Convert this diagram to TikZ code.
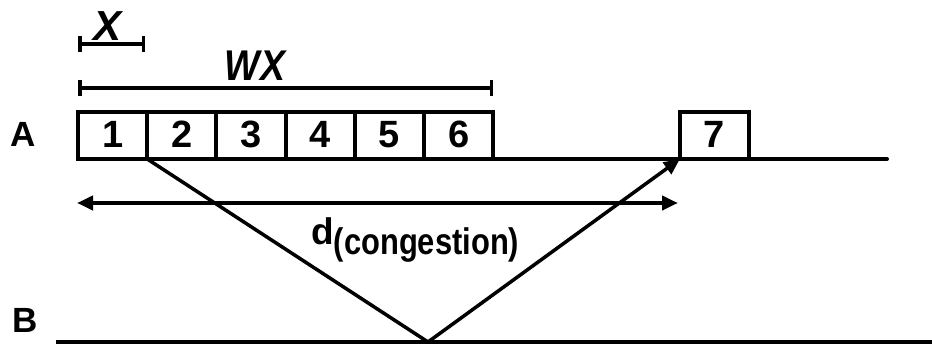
\documentclass[tikz,border=0pt]{standalone}
\usepackage{fontspec}
\setmainfont{Liberation Sans}
\usetikzlibrary{arrows.meta}
\begin{document}
\begin{tikzpicture}[x=1pt,y=-1pt,
  cell/.style={draw, line width=4pt, minimum width=69.2pt, minimum height=47pt,
    inner sep=0pt, outer sep=0pt, font=\fontsize{38}{38}\selectfont\bfseries,
    text height=27pt, text depth=2pt},
  lbl/.style={inner sep=0pt, font=\fontsize{35}{35}\selectfont\bfseries},
  dim/.style={line width=3.5pt, {Bar[width=16pt]}-{Bar[width=16pt]}},
  timeline/.style={line width=4pt, line cap=round},
  sig/.style={line width=3.5pt},
  tip/.style={-{Triangle[length=16pt,width=14pt]}},
  dtip/.style={{Triangle[length=16pt,width=14pt]}-{Triangle[length=16pt,width=14pt]}}
]
\useasboundingbox (0,0) rectangle (932,344);
% boxes
\foreach \i in {1,...,6} {
  \node[cell] (b\i) at ({78+69.2*(\i-0.5)},135.5) {\i};
}
\node[cell] (b7) at (714.5,135.5) {7};
% timelines
\coordinate (aend) at (887,159);
\draw[timeline] (b6.south east) -- (aend);
\coordinate (bstart) at (56,342);
\coordinate (bend) at (934,342);
\draw[line width=3.5pt] (bstart) -- (bend);
% labels
\node[lbl] (la) at (23,134) {A};
\node[lbl] (lb) at (25,320) {B};
% dimension bars
\coordinate (x1) at (78,44);
\coordinate (x2) at (145,44);
\draw[dim] (x1) -- (x2);
\node[inner sep=0pt, font=\fontsize{42}{42}\selectfont\bfseries\itshape] (lx) at (108,26) {X};
\coordinate (w1) at (78,88);
\coordinate (w2) at (493,88);
\draw[dim] (w1) -- (w2);
\node[inner sep=0pt, font=\fontsize{43}{43}\selectfont\bfseries\itshape] (lwx) at (255,66) {\scalebox{0.87}[1]{WX}};
% signal
\coordinate (v) at (428,342);
\draw[sig] (b1.south east) -- (v);
\draw[sig, tip] (v) -- (b7.south west);
% congestion delay
\coordinate (dl) at (77,203);
\coordinate (dr) at (678,203);
\draw[line width=4pt, dtip] (dl) -- (dr);
\node[anchor=base west, inner sep=0pt, font=\fontsize{37}{37}\selectfont\bfseries] (ld) at (311,245)
  {d\raisebox{-10pt}{\scalebox{0.835}[1]{(congestion)}}};
\end{tikzpicture}
\end{document}
